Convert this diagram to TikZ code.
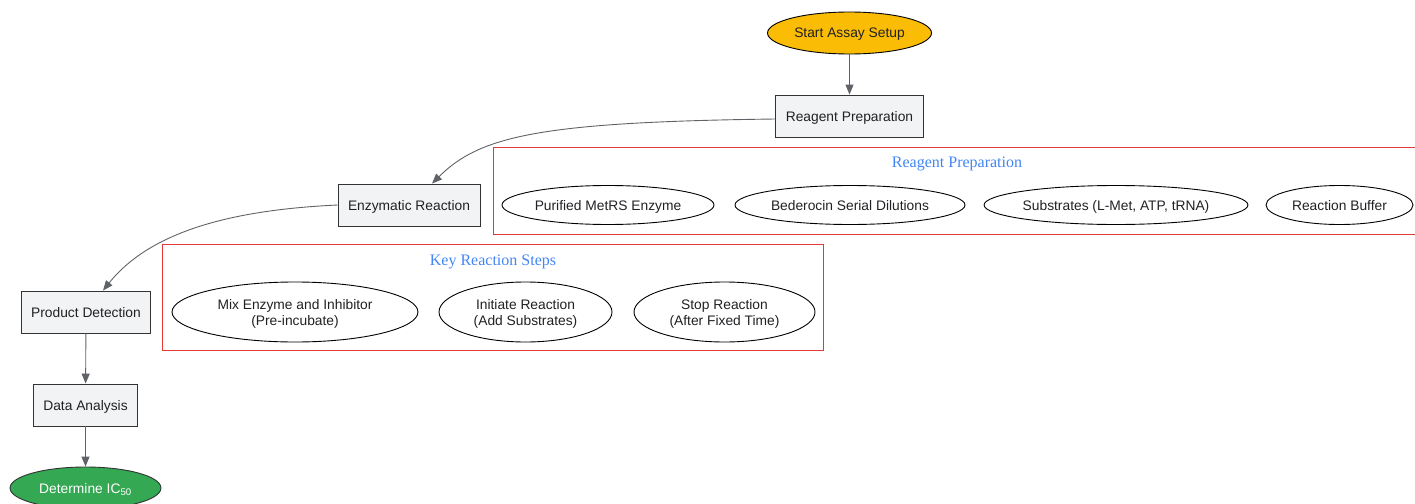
\documentclass[tikz,border=0pt]{standalone}
\usepackage{fontspec}
\setmainfont{Liberation Sans}
\newfontfamily\titlefont{Liberation Serif}
\usetikzlibrary{shapes.geometric,arrows.meta}

\definecolor{startgold}{HTML}{FBBC05}
\definecolor{endgreen}{HTML}{34A853}
\definecolor{boxgray}{HTML}{F1F3F4}
\definecolor{edgegray}{HTML}{5F6368}
\definecolor{txtdark}{HTML}{202124}
\definecolor{clusterred}{HTML}{E53935}
\definecolor{titleblue}{HTML}{4285F4}

\begin{document}
\begin{tikzpicture}[x=1pt,y=-1pt,
    every node/.style={font=\fontsize{13.8}{16}\selectfont, text=txtdark, text depth=0pt},
    stepbox/.style={rectangle, draw=black!80, fill=boxgray, line width=0.9pt,
        minimum height=42pt, inner xsep=10pt},
    oval/.style={ellipse, draw=black, line width=0.9pt, inner sep=0pt,
        minimum height=39pt, align=center},
    cluster/.style={draw=clusterred, line width=1pt},
    clustertitle/.style={font=\titlefont\fontsize{16}{18}\selectfont, text=titleblue},
    flow/.style={draw=edgegray, line width=0.9pt, -{Triangle[length=10pt,width=8pt]}}]

\useasboundingbox (0,0) rectangle (1415,503);
\clip (0,0) rectangle (1415,503);

% main line
\node[oval, fill=startgold, minimum width=164pt, minimum height=42pt] (start) at (849.5,33) {Start Assay Setup};
\node[stepbox] (prep) at (849.5,116) {Reagent Preparation};
\node[stepbox] (react) at (409,205) {Enzymatic Reaction};
\node[stepbox] (detect) at (86,312) {Product Detection};
\node[stepbox] (analysis) at (85.5,405) {Data Analysis};
\node[oval, fill=endgreen, draw=black!80, minimum width=151pt, minimum height=42pt,
      text=white] (ic) at (85.5,488) {Determine IC\textsubscript{50}};

% reagent cluster
\draw[cluster] (493.5,147.5) rectangle (1417,234.5);
\node[clustertitle] (t1) at (957,162) {Reagent Preparation};
\node[oval, minimum width=212pt] (enz) at (608,205) {Purified MetRS Enzyme};
\node[oval, minimum width=230pt] (bed) at (850,205) {Bederocin Serial Dilutions};
\node[oval, minimum width=260pt] (sub) at (1116,205) {Substrates (L-Met, ATP, tRNA)};
\node[oval, minimum width=147pt] (buf) at (1339.5,205) {Reaction Buffer};

% reaction cluster
\draw[cluster] (162.5,244.5) rectangle (823.5,350.5);
\node[clustertitle] (t2) at (493,260) {Key Reaction Steps};
\node[oval, minimum width=246pt, minimum height=60pt] (mix) at (295,312) {Mix Enzyme and Inhibitor\\(Pre-incubate)};
\node[oval, minimum width=173pt, minimum height=60pt] (init) at (525.5,312) {Initiate Reaction\\(Add Substrates)};
\node[oval, minimum width=181pt, minimum height=60pt] (stop) at (724.5,312) {Stop Reaction\\(After Fixed Time)};

% edges
\draw[flow] (start) -- (prep);
\draw[flow] ([yshift=-3pt]prep.west) .. controls (540,122) and (480,136) .. ([xshift=23pt]react.north);
\draw[flow] (react.west) .. controls (230,210) and (150,232) .. ([xshift=17pt]detect.north);
\draw[flow] (detect) -- (analysis);
\draw[flow] (analysis) -- (ic);

\end{tikzpicture}
\end{document}
